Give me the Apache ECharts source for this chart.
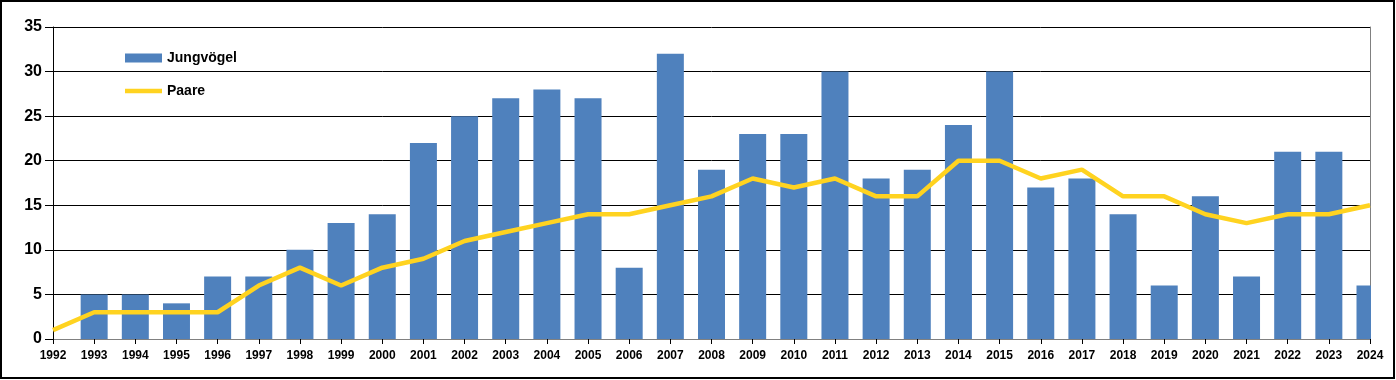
<!DOCTYPE html>
<html><head><meta charset="utf-8">
<script src="https://cdn.jsdelivr.net/npm/echarts@6/dist/echarts.min.js"></script>
<style>html,body{margin:0;padding:0;background:#fff}#c{width:1396px;height:380px}</style>
</head><body><div id="c"></div>
<script>
const years = ['1992','1993','1994','1995','1996','1997','1998','1999','2000','2001','2002','2003','2004','2005','2006','2007','2008','2009','2010','2011','2012','2013','2014','2015','2016','2017','2018','2019','2020','2021','2022','2023','2024'];
const jungvoegel = [0,5,5,4,7,7,10,13,14,22,25,27,28,27,8,32,19,23,23,30,18,19,24,30,17,18,14,6,16,7,21,21,6];
const paare = [1,3,3,3,3,6,8,6,8,9,11,12,13,14,14,15,16,18,17,18,16,16,20,20,18,19,16,16,14,13,14,14,15];
const yTicks = [0,5,10,15,20,25,30,35];

const W = 1396, H = 380;
const G = {left:53,right:26,top:27,bottom:41};
const chart = echarts.init(document.getElementById('c'), null, {renderer:'canvas'});
const legendText = {fontSize:14,fontWeight:'bold',color:'#000',lineHeight:16};
chart.setOption({
  animation:false,
  textStyle:{fontFamily:'Arial, "Liberation Sans", sans-serif'},
  grid:Object.assign({containLabel:false},G),
  graphic:[
    // mask the part of the last bar that lies outside the plot area
    {type:'rect',z:100,silent:true,shape:{x:W-G.right+1,y:G.top-2,width:G.right-3,height:H-G.top-G.bottom+2},style:{fill:'#fff'}},
    {type:'rect',z:101,silent:true,shape:{x:1,y:1,width:W-3,height:H-3},style:{fill:'none',stroke:'#000',lineWidth:2}}
  ],
  legend:[{
    left:125,top:50,padding:0,itemWidth:37,itemHeight:9,itemGap:5,
    textStyle:legendText,
    data:[{name:'Jungvögel',icon:'rect'}]
  },{
    left:125,top:83,padding:0,itemWidth:37,itemHeight:4.5,itemGap:5,
    textStyle:legendText,
    data:[{name:'Paare',icon:'rect',itemStyle:{color:'#FFD320'}}]
  }],
  xAxis:{
    type:'category',data:years,boundaryGap:false,
    axisLine:{lineStyle:{color:'#808080',width:1}},
    axisTick:{show:true,interval:0,length:5,lineStyle:{color:'#000'}},
    axisLabel:{interval:0,fontSize:12,fontWeight:'bold',color:'#000',margin:11},
    splitLine:{show:false}
  },
  yAxis:[{
    type:'value',min:yTicks[0],max:yTicks[yTicks.length-1],interval:5,
    axisLine:{show:true,lineStyle:{color:'#000'}},
    axisTick:{show:true,length:8,lineStyle:{color:'#000'}},
    axisLabel:{fontSize:16,fontWeight:'bold',color:'#000',margin:11},
    splitLine:{show:true,lineStyle:{color:'#000',width:1}}
  },{
    type:'value',min:0,max:35,interval:5,position:'right',
    axisLine:{show:true,lineStyle:{color:'#808080'}},
    axisTick:{show:false},axisLabel:{show:false},splitLine:{show:false}
  }],
  series:[{
    name:'Jungvögel',type:'bar',data:jungvoegel,barWidth:27,
    itemStyle:{color:'#4F81BD'}
  },{
    name:'Paare',type:'line',data:paare,symbol:'none',
    lineStyle:{color:'#FFD320',width:4.5},itemStyle:{color:'#FFD320'}
  }]
});
</script></body></html>
